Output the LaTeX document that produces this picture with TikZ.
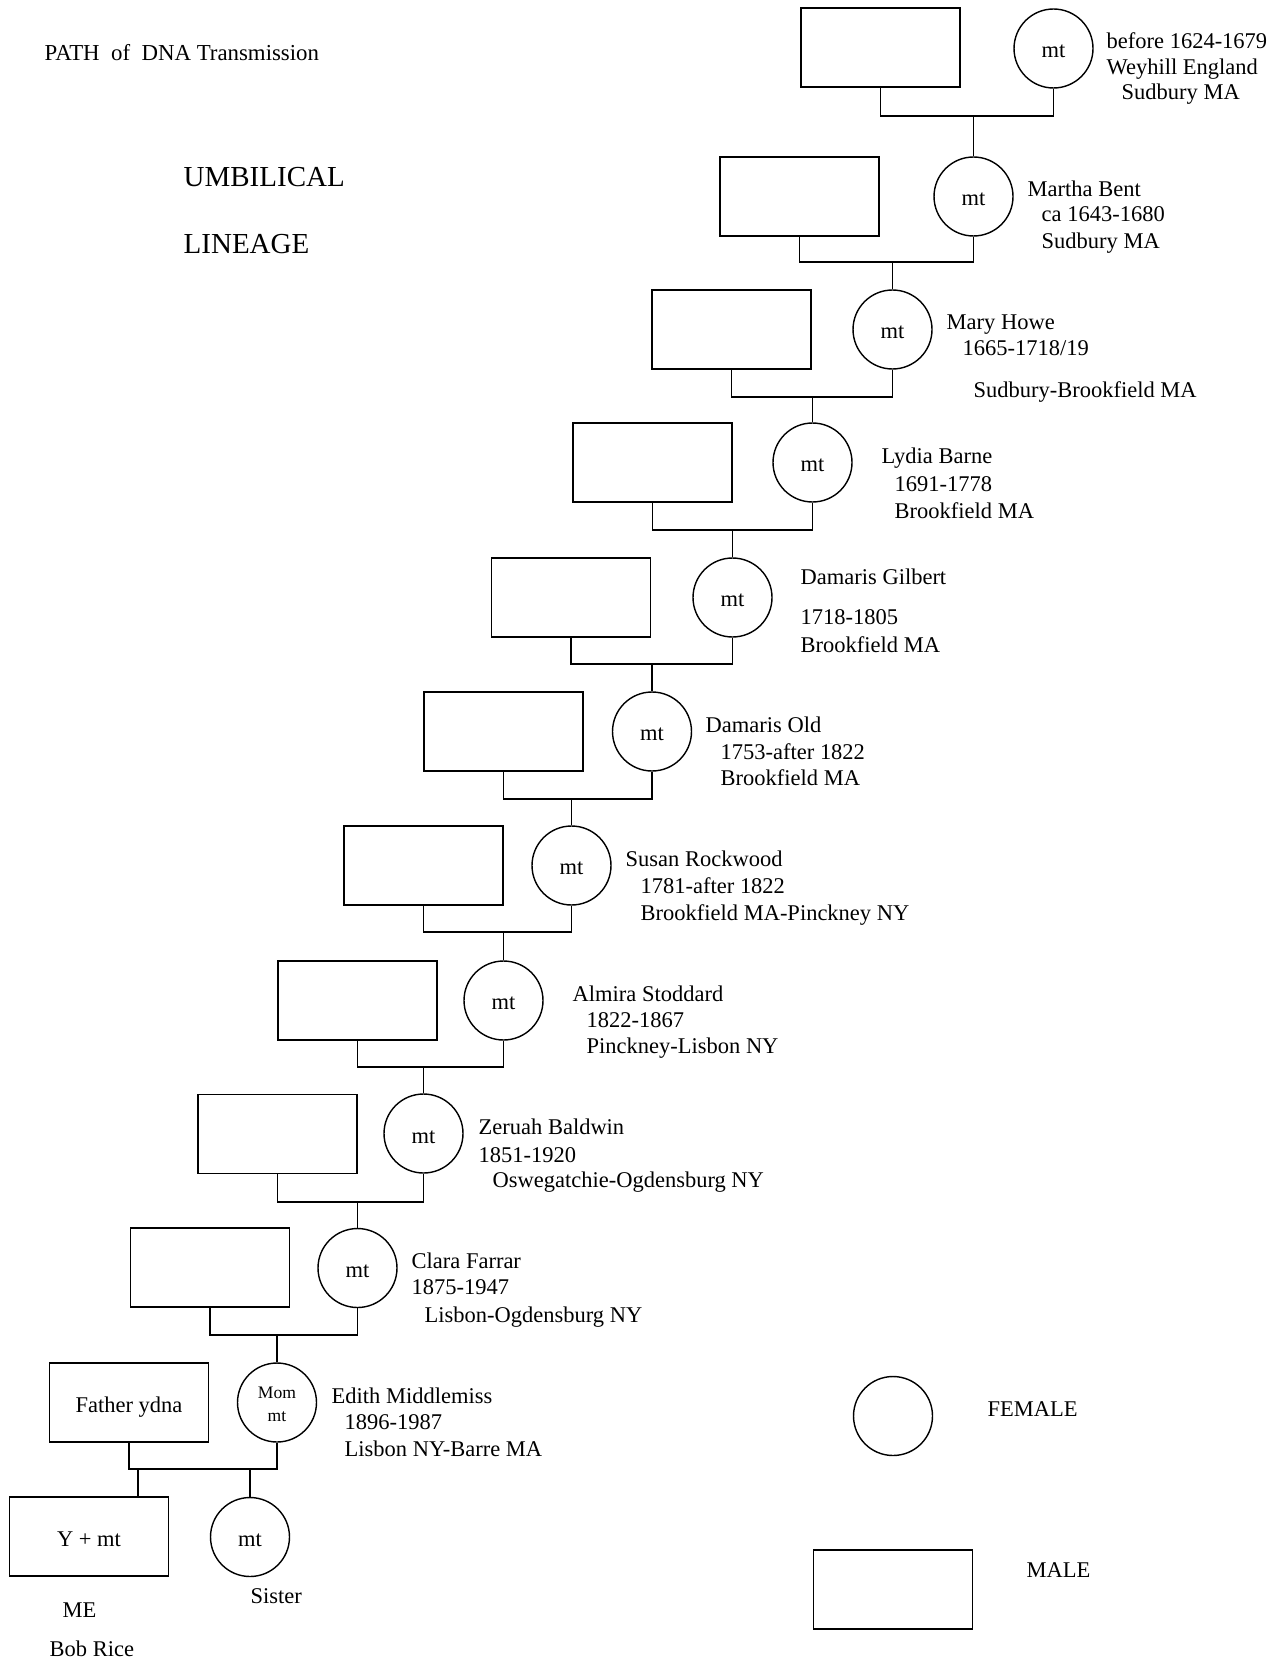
\documentclass[tikz,border=0pt]{standalone}
\usepackage{fontspec}
\setmainfont{Liberation Serif}

\newcommand{\lbltxt}{\fontsize{12.8}{15}\selectfont}
\newcommand{\bigtxt}{\fontsize{16.5}{19}\selectfont}

\tikzset{
  male/.style={draw, rectangle, minimum width=3.18cm, minimum height=1.58cm, inner sep=0pt,
    text height=10.8pt, text depth=0pt, font=\lbltxt},
  female/.style={draw, circle, minimum size=1.58cm, inner sep=0pt,
    text height=10.8pt, text depth=0pt, font=\lbltxt},
  info/.style={anchor=base west, inner sep=0pt, font=\lbltxt},
}

\begin{document}
\begin{tikzpicture}[x=0.02cm, y=-0.02cm, line width=0.8pt]

\useasboundingbox (0,0) rectangle (1283,1662);

% headings
\node[info, font=\fontsize{13}{15}\selectfont] (title) at (44,60.7) {PATH\ \ of\ \ DNA Transmission};
\node[info, font=\bigtxt] (umb) at (183,186.7) {UMBILICAL};
\node[info, font=\bigtxt] (lin) at (183,254) {LINEAGE};

% generations, box = husband, circle = mother line
\node[male] (b0) at (880.5,47.5) {};
\node[female] (c0) at (1053.5,48.5) {mt};
\node[male] (b1) at (799.5,196.5) {};
\node[female] (c1) at (973.5,196.5) {mt};
\node[male] (b2) at (731.5,329.5) {};
\node[female] (c2) at (892.5,329.5) {mt};
\node[male] (b3) at (652.5,462.5) {};
\node[female] (c3) at (812.5,462.5) {mt};
\node[male] (b4) at (571,597.5) {};
\node[female] (c4) at (732.5,597.5) {mt};
\node[male] (b5) at (503.5,731.5) {};
\node[female] (c5) at (652,731.5) {mt};
\node[male] (b6) at (423.5,865.5) {};
\node[female] (c6) at (571.5,865.5) {mt};
\node[male] (b7) at (357.5,1000.5) {};
\node[female] (c7) at (503.5,1000.5) {mt};
\node[male] (b8) at (277.5,1134) {};
\node[female] (c8) at (423.5,1133.5) {mt};
\node[male] (b9) at (210,1267.5) {};
\node[female] (c9) at (357.5,1268) {mt};
\node[male] (b10) at (129,1402.5) {Father ydna};
\node[female, text height=, text depth=, font=\fontsize{10}{12.5}\selectfont] (c10) at (277,1402.5)
  {\raisebox{-1.8pt}[\height][\depth]{\begin{tabular}{@{}c@{}}Mom\\[1pt]mt\end{tabular}}};
\node[male] (me) at (89,1536.5) {Y + mt};
\node[female] (sis) at (250,1537) {mt};

% names and dates
\node[info] (t0a) at (1106,48.5) {before 1624-1679};
\node[info] (t0b) at (1106,74.5) {Weyhill England};
\node[info] (t0c) at (1121,100) {Sudbury MA};
\node[info] (t1a) at (1027,196.7) {Martha Bent};
\node[info] (t1b) at (1041,222) {ca 1643-1680};
\node[info] (t1c) at (1041,249) {Sudbury MA};
\node[info] (t2a) at (946,330) {Mary Howe};
\node[info] (t2b) at (962,356) {1665-1718/19};
\node[info] (t2c) at (973,397) {Sudbury-Brookfield MA};
\node[info] (t3a) at (881,463) {Lydia Barne};
\node[info] (t3b) at (894,491) {1691-1778};
\node[info] (t3c) at (894,518) {Brookfield MA};
\node[info] (t4a) at (800,584) {Damaris Gilbert};
\node[info] (t4b) at (800,624) {1718-1805};
\node[info] (t4c) at (800,652) {Brookfield MA};
\node[info] (t5a) at (705,732) {Damaris Old};
\node[info] (t5b) at (720,759) {1753-after 1822};
\node[info] (t5c) at (720,785) {Brookfield MA};
\node[info] (t6a) at (625,866) {Susan Rockwood};
\node[info] (t6b) at (640,893) {1781-after 1822};
\node[info] (t6c) at (640,920) {Brookfield MA-Pinckney NY};
\node[info] (t7a) at (572,1001) {Almira Stoddard};
\node[info] (t7b) at (586,1027) {1822-1867};
\node[info] (t7c) at (586,1053) {Pinckney-Lisbon NY};
\node[info] (t8a) at (478,1134) {Zeruah Baldwin};
\node[info] (t8b) at (478,1162) {1851-1920};
\node[info] (t8c) at (492,1187) {Oswegatchie-Ogdensburg NY};
\node[info] (t9a) at (411,1268) {Clara Farrar};
\node[info] (t9b) at (411,1294) {1875-1947};
\node[info] (t9c) at (424,1322) {Lisbon-Ogdensburg NY};
\node[info] (t10a) at (331,1403) {Edith Middlemiss};
\node[info] (t10b) at (344,1429) {1896-1987};
\node[info] (t10c) at (344,1456) {Lisbon NY-Barre MA};
\node[info] (tme) at (62,1617) {ME};
\node[info] (tbob) at (49,1656) {Bob Rice};
\node[info] (tsis) at (250,1603) {Sister};

% legend
\node[female] (lf) at (893,1416) {};
\node[info] (tlf) at (987,1416) {FEMALE};
\node[male] (lm) at (893,1589.5) {};
\node[info] (tlm) at (1026,1577) {MALE};

% junctions
\coordinate (j0) at (c1 |- 0,116);
\coordinate (j1) at (c2 |- 0,262);
\coordinate (j2) at (c3 |- 0,397);
\coordinate (j3) at (c4 |- 0,530);
\coordinate (j4) at (c5 |- 0,664);
\coordinate (j5) at (c6 |- 0,799);
\coordinate (j6) at (c7 |- 0,932);
\coordinate (j7) at (c8 |- 0,1067);
\coordinate (j8) at (c9 |- 0,1202);
\coordinate (j9) at (c10 |- 0,1335);
\coordinate (j10) at (138,1469);
\coordinate (j11) at (sis |- 0,1469);

\draw (b0.south) |- (j0) -| (c0.south);
\draw (b1.south) |- (j1) -| (c1.south);
\draw (b2.south) |- (j2) -| (c2.south);
\draw (b3.south) |- (j3) -| (c3.south);
\draw (b4.south) |- (j4) -| (c4.south);
\draw (b5.south) |- (j5) -| (c5.south);
\draw (b6.south) |- (j6) -| (c6.south);
\draw (b7.south) |- (j7) -| (c7.south);
\draw (b8.south) |- (j8) -| (c8.south);
\draw (b9.south) |- (j9) -| (c9.south);
\draw (b10.south) |- (j10) -| (c10.south);

\draw (j0) -- (c1.north);
\draw (j1) -- (c2.north);
\draw (j2) -- (c3.north);
\draw (j3) -- (c4.north);
\draw (j4) -- (c5.north);
\draw (j5) -- (c6.north);
\draw (j6) -- (c7.north);
\draw (j7) -- (c8.north);
\draw (j8) -- (c9.north);
\draw (j9) -- (c10.north);
\draw (j10) -- (me.north -| j10);
\draw (j11) -- (sis.north);

\end{tikzpicture}
\end{document}
